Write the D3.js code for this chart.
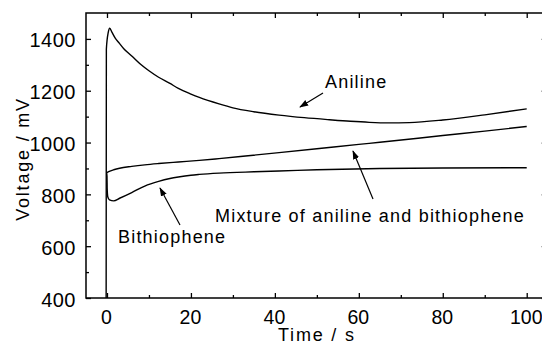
<!DOCTYPE html>
<html>
<head>
<meta charset="utf-8">
<script src="https://cdn.jsdelivr.net/npm/d3@7"></script>
<style>
  html, body { margin: 0; padding: 0; background: #fff; }
  svg { display: block; }
  text { font-family: "Liberation Sans", Arial, sans-serif; fill: #000; }
</style>
</head>
<body>
<svg id="chart" width="542" height="344"></svg>
<script>
// ---- data ----
const xTicks = [0, 20, 40, 60, 80, 100];
const xMinor = [10, 30, 50, 70, 90];
const yTicks = [400, 600, 800, 1000, 1200, 1400];
const yMinor = [500, 700, 900, 1100, 1300];

const anilineT = [-0.2, -0.15, 0.3, 0.65, 1.2, 2, 2.8, 4, 5.9, 8, 10, 12.3, 15, 17, 20, 22, 26.7, 30, 35, 41, 47, 53, 58, 62.5, 67, 72, 80, 90, 100];
const anilineV = [400, 1360, 1425, 1441, 1425, 1402, 1386, 1362, 1334, 1302, 1277, 1252, 1228, 1209, 1187, 1174, 1149, 1134, 1119, 1106, 1096, 1088, 1082, 1078, 1076, 1077, 1087, 1107, 1130];

const mixtureT = [-0.1, 0.4, 1.6, 3, 5.9, 9, 12.3, 17, 22, 26.7, 33, 41, 50, 60, 65, 80, 90, 100];
const mixtureV = [884, 888, 895, 901, 908, 914, 919, 925, 931, 938, 948, 961, 976, 993, 1001, 1027, 1044, 1062];

const bithioT = [-0.1, 0, 0.05, 0.2, 0.6, 1.6, 3, 5.9, 9, 12.3, 15, 17, 20, 22, 26.7, 35, 41, 50, 65, 80, 100];
const bithioV = [884, 870, 820, 790, 779, 775, 785, 807, 832, 850, 861, 867, 874, 877, 882, 887, 890, 895, 900, 902, 903];

const annotations = [
  { text: "Aniline", tx: 325, ty: 88, from: [323, 93], to: [300, 107] },
  { text: "Mixture of aniline and bithiophene", tx: 215, ty: 222, from: [373, 199], to: [353, 151] },
  { text: "Bithiophene", tx: 118, ty: 243, from: [180, 225], to: [160, 188] }
];

// ---- layout ----
const svg = d3.select("#chart");
const L = 86, R = 547.7, T = 13, B = 298;
const x = d3.scaleLinear().domain([-5, 105]).range([L, R]);
const y = d3.scaleLinear().domain([400, 1500]).range([B, T]);

// frame
svg.append("rect").attr("x", L).attr("y", T).attr("width", R - L).attr("height", B - T)
  .attr("fill", "none").attr("stroke", "#000").attr("stroke-width", 1.5);

function axisStyle(g) {
  g.select(".domain").remove();
  g.selectAll("line").attr("stroke", "#000").attr("stroke-width", 1.3);
}

// bottom axis
const gB = svg.append("g").attr("transform", `translate(0,${B})`)
  .call(d3.axisBottom(x).tickValues(xTicks).tickSize(-5).tickPadding(12).tickFormat(d3.format("d")));
axisStyle(gB);
gB.selectAll("text").attr("font-size", 19.5).attr("font-family", "Liberation Sans, Arial, sans-serif").attr("fill", "#000").attr("dx", -1);
svg.append("g").attr("transform", `translate(0,${B})`)
  .call(d3.axisBottom(x).tickValues(xMinor).tickSize(-3).tickFormat(""))
  .call(axisStyle);

// top axis
svg.append("g").attr("transform", `translate(0,${T})`)
  .call(d3.axisTop(x).tickValues(xTicks).tickSize(-5).tickFormat("")).call(axisStyle);
svg.append("g").attr("transform", `translate(0,${T})`)
  .call(d3.axisTop(x).tickValues(xMinor).tickSize(-3).tickFormat("")).call(axisStyle);

// left axis
const gL = svg.append("g").attr("transform", `translate(${L},0)`)
  .call(d3.axisLeft(y).tickValues(yTicks).tickSize(-5).tickPadding(10).tickFormat(d3.format("d")));
axisStyle(gL);
gL.selectAll("text").attr("font-size", 20).attr("font-family", "Liberation Sans, Arial, sans-serif").attr("fill", "#000").attr("letter-spacing", 0.5).attr("dy", "0.4em");
svg.append("g").attr("transform", `translate(${L},0)`)
  .call(d3.axisLeft(y).tickValues(yMinor).tickSize(-3).tickFormat("")).call(axisStyle);

// right axis
svg.append("g").attr("transform", `translate(${R},0)`)
  .call(d3.axisRight(y).tickValues(yTicks).tickSize(-6).tickFormat("")).call(axisStyle);
svg.append("g").attr("transform", `translate(${R},0)`)
  .call(d3.axisRight(y).tickValues(yMinor).tickSize(-3).tickFormat("")).call(axisStyle);

// axis titles
svg.append("text").attr("x", (x(0) + x(100)) / 2 + 0).attr("y", 341)
  .attr("text-anchor", "middle").attr("font-size", 18).attr("letter-spacing", 1.8)
  .text("Time / s");
svg.append("text").attr("transform", `translate(29,${(96 + 222) / 2}) rotate(-90)`)
  .attr("text-anchor", "middle").attr("font-size", 18).attr("letter-spacing", 1.8)
  .text("Voltage / mV");

// curves
const line = d3.line().x(d => x(d[0])).y(d => y(d[1])).curve(d3.curveMonotoneX);
const series = [
  d3.zip(anilineT, anilineV),
  d3.zip(mixtureT, mixtureV),
  d3.zip(bithioT, bithioV)
];
svg.append("g").selectAll("path").data(series).join("path")
  .attr("d", line).attr("fill", "none").attr("stroke", "#000").attr("stroke-width", 1.4)
  .attr("stroke-linejoin", "round");

// annotations with arrows
const defs = svg.append("defs");
defs.append("marker").attr("id", "arr").attr("viewBox", "0 0 10 10")
  .attr("refX", 9).attr("refY", 5).attr("markerWidth", 9).attr("markerHeight", 9)
  .attr("markerUnits", "userSpaceOnUse").attr("orient", "auto")
  .append("path").attr("d", "M0,1.5 L10,5 L0,8.5 z").attr("fill", "#000");

const ann = svg.append("g");
annotations.forEach(a => {
  ann.append("line").attr("x1", a.from[0]).attr("y1", a.from[1]).attr("x2", a.to[0]).attr("y2", a.to[1])
    .attr("stroke", "#000").attr("stroke-width", 1.2).attr("marker-end", "url(#arr)");
  ann.append("text").attr("x", a.tx).attr("y", a.ty).attr("font-size", 18).attr("letter-spacing", 1.2)
    .text(a.text);
});
</script>
</body>
</html>
